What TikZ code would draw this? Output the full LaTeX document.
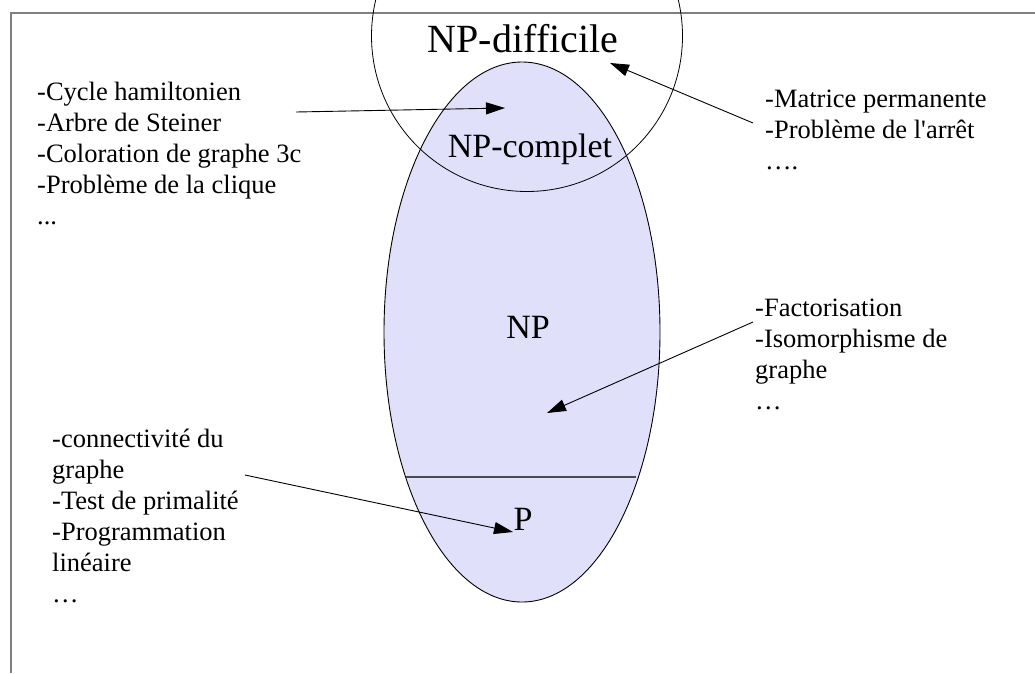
\documentclass[tikz,border=0pt]{standalone}
\usepackage{fontspec}
\setmainfont{Liberation Serif}
\usetikzlibrary{arrows.meta}
\definecolor{npfill}{RGB}{224,224,250}

\begin{document}
\begin{tikzpicture}[x=1pt, y=-1pt,
  every node/.style={inner sep=0pt, anchor=base west, align=left, font=\fontsize{26.5}{31}\selectfont},
  big/.style={anchor=base, font=\fontsize{34}{40}\selectfont},
  conn/.style={-{Triangle[length=19pt,width=12pt]}, line width=0.9pt}]
\useasboundingbox (0,0) rectangle (1035,673);
\clip (0,0) rectangle (1035,673);
% frame
\draw[gray, line width=1.6pt] (11,673)--(11,13)--(1035,13);
% classes
\filldraw[fill=npfill, draw=black, line width=0.9pt] (522,332) ellipse (138 and 270);
\draw[gray!60!black, line width=1.3pt] (406,477)--(636,477);
\draw[line width=0.8pt] (527,36) circle (155.5);
\node[big, font=\fontsize{40}{48}\selectfont] (hard) at (523,52) {NP-difficile};
\node[big] (npc) at (530,157) {NP-complet};
\node[big] (np) at (528,338) {NP};
\node[big] (p) at (523,530) {P};
% examples (placed at the baseline of their last line)
\node (lstA) at (37,224) {-Cycle hamiltonien\\-Arbre de Steiner\\-Coloration de graphe 3c\\-Problème de la clique\\...};
\node (lstB) at (765,169) {-Matrice permanente\\-Problème de l\textquotesingle arrêt\\\dots.};
\node (lstC) at (755,409) {-Factorisation\\-Isomorphisme de\\graphe\\\dots};
\node (lstD) at (52,602) {-connectivité du\\graphe\\-Test de primalité\\-Programmation\\linéaire\\\dots};
\foreach \s/\x/\y/\u/\v in {A/296/112/505/108,B/753/123/610/63,C/753/322/547/413,D/245/475/513/532}
{\coordinate (from\s) at (\x,\y);\coordinate (to\s) at (\u,\v);\draw[conn] (from\s)--(to\s);}
\end{tikzpicture}
\end{document}
